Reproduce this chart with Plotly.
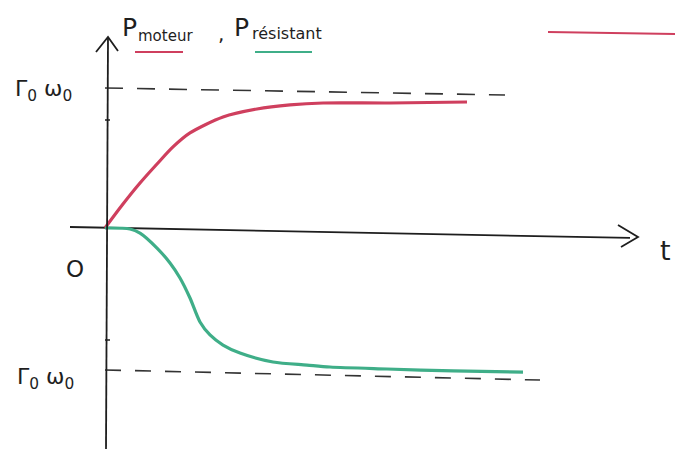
import plotly.graph_objects as go

# ---- data (t in arbitrary units, P in units of Gamma0*omega0) ----
t_moteur = [0.0, 0.36, 0.70, 1.04, 1.36, 1.70, 2.36, 3.04, 3.70, 4.36, 5.70, 7.24]
p_moteur = [0.0, 0.171, 0.321, 0.457, 0.579, 0.679, 0.793, 0.850, 0.879, 0.893, 0.893, 0.900]

t_resist = [0.0, 0.50, 0.70, 1.04, 1.30, 1.50, 1.70, 1.90, 2.10, 2.36, 2.70, 3.36, 4.04, 4.50, 5.64, 6.96, 8.36]
p_resist = [0.0, -0.007, -0.036, -0.143, -0.250, -0.357, -0.500, -0.671, -0.764, -0.836, -0.893,
            -0.957, -0.979, -0.993, -1.007, -1.021, -1.029]

t_dash_top = [0.0, 8.0]
p_dash_top = [1.0, 0.95]
t_dash_bot = [0.0, 8.7]
p_dash_bot = [-1.014, -1.086]

t_axis = [-0.7, 10.5]
p_axis = [0.007, -0.071]

RED = "#cf3f5e"
GREEN = "#3fae88"
INK = "#1e1e1e"

W, H = 675, 449
X0, XS = 105, 50.0     # px of t=0, px per unit t
Y0, YS = 228, 140.0    # px of P=0, px per unit P

def px_x(x):
    return x / W

def px_y(y):
    return 1 - y / H

fig = go.Figure()

# dashed reference levels
fig.add_trace(go.Scatter(x=t_dash_top, y=p_dash_top, mode="lines",
                         line=dict(color="#333333", width=1.6, dash="18px,14px"),
                         hoverinfo="skip", showlegend=False))
fig.add_trace(go.Scatter(x=t_dash_bot, y=p_dash_bot, mode="lines",
                         line=dict(color="#333333", width=1.6, dash="16px,14px"),
                         hoverinfo="skip", showlegend=False))

# time axis (slightly sloped, as drawn)
fig.add_trace(go.Scatter(x=t_axis, y=p_axis, mode="lines",
                         line=dict(color=INK, width=1.8),
                         hoverinfo="skip", showlegend=False))

# curves
fig.add_trace(go.Scatter(x=t_moteur, y=p_moteur, mode="lines", name="P moteur",
                         line=dict(color=RED, width=3.2, shape="spline", smoothing=0.8),
                         showlegend=False))
fig.add_trace(go.Scatter(x=t_resist, y=p_resist, mode="lines", name="P résistant",
                         line=dict(color=GREEN, width=3.2, shape="spline", smoothing=0.8),
                         showlegend=False))

shapes = []
# vertical axis
shapes.append(dict(type="line", xref="paper", yref="paper",
                   x0=px_x(106), y0=px_y(449), x1=px_x(108), y1=px_y(38),
                   line=dict(color=INK, width=1.8)))
# vertical arrow head
shapes.append(dict(type="path", xref="paper", yref="paper",
                   path=f"M {px_x(96)} {px_y(52)} L {px_x(108)} {px_y(37)} L {px_x(118)} {px_y(51)}",
                   line=dict(color=INK, width=1.8)))
# horizontal arrow head
shapes.append(dict(type="path", xref="paper", yref="paper",
                   path=f"M {px_x(618)} {px_y(225)} L {px_x(638)} {px_y(237)} L {px_x(621)} {px_y(247)}",
                   line=dict(color=INK, width=1.8)))
# small ticks on vertical axis
for yy in (120, 340):
    shapes.append(dict(type="line", xref="paper", yref="paper",
                       x0=px_x(105), y0=px_y(yy), x1=px_x(110), y1=px_y(yy),
                       line=dict(color=INK, width=1.5)))
# underlines of the title
shapes.append(dict(type="line", xref="paper", yref="paper",
                   x0=px_x(135), y0=px_y(52), x1=px_x(183), y1=px_y(52),
                   line=dict(color=RED, width=2)))
shapes.append(dict(type="line", xref="paper", yref="paper",
                   x0=px_x(255), y0=px_y(52), x1=px_x(312), y1=px_y(52),
                   line=dict(color=GREEN, width=2)))
# red legend stroke top right
shapes.append(dict(type="line", xref="paper", yref="paper",
                   x0=px_x(548), y0=px_y(32), x1=px_x(676), y1=px_y(34),
                   line=dict(color=RED, width=2)))

FONT = "DejaVu Sans"

def label(text, x, y, size, anchor="left"):
    return dict(text=text, xref="paper", yref="paper", x=px_x(x), y=px_y(y),
                xanchor=anchor, yanchor="middle", showarrow=False,
                font=dict(family=FONT, size=size, color=INK))

annotations = [
    label("P", 120, 27, 25),
    label("moteur", 136, 36, 15),
    label(",", 216, 34, 20),
    label("P", 232, 27, 25),
    label("résistant", 250, 34, 16),
    label("Γ<sub>0</sub> ω<sub>0</sub>", 44, 90, 22, "center"),
    label("Γ<sub>0</sub> ω<sub>0</sub>", 45, 378, 22, "center"),
    label("O", 75, 269, 23, "center"),
    label("t", 665, 250, 27, "center"),
]

fig.update_layout(
    width=W, height=H,
    margin=dict(l=0, r=0, t=0, b=0),
    paper_bgcolor="white", plot_bgcolor="white",
    xaxis=dict(range=[(0 - X0) / XS, (W - X0) / XS], visible=False, fixedrange=True),
    yaxis=dict(range=[(Y0 - H) / YS, Y0 / YS], visible=False, fixedrange=True),
    shapes=shapes, annotations=annotations,
    showlegend=False,
)

fig.write_html("out.html", config={"displayModeBar": False},
               post_script="document.body.style.margin='0';document.body.style.overflow='hidden';")
